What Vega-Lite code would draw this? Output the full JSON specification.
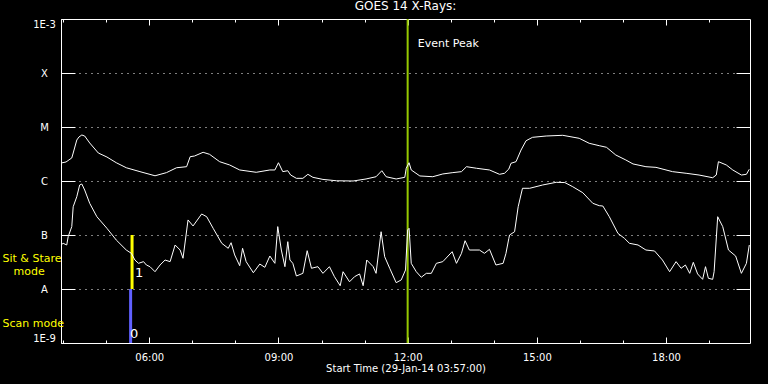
{
  "$schema": "https://vega.github.io/schema/vega-lite/v6.json",
  "width": 689,
  "height": 324,
  "autosize": "none",
  "padding": {"left": 61, "top": 19, "right": 18, "bottom": 41},
  "background": "black",
  "title": {"text": "GOES 14 X-Rays:", "color": "white", "font": "DejaVu Sans", "fontSize": 12, "fontWeight": "normal", "anchor": "middle", "offset": 5, "baseline": "bottom", "dy": 12},
  "config": {
    "view": {"stroke": "white", "strokeWidth": 1},
    "axis": {"domain": false, "grid": false, "tickColor": "white", "tickWidth": 1, "labelColor": "white", "labelFont": "DejaVu Sans", "labelFontSize": 10, "titleColor": "white", "titleFont": "DejaVu Sans", "titleFontSize": 10, "titleFontWeight": "normal", "labelOverlap": false}
  },
  "datasets": {
    "long": [
      {"t":"2014-01-29T03:57","v":2.15e-6},{"t":"2014-01-29T04:04","v":2.25e-6},{"t":"2014-01-29T04:12","v":2.67e-6},{"t":"2014-01-29T04:14","v":3.30e-6},
      {"t":"2014-01-29T04:19","v":5.74e-6},{"t":"2014-01-29T04:22","v":6.53e-6},{"t":"2014-01-29T04:26","v":7.11e-6},{"t":"2014-01-29T04:30","v":6.81e-6},
      {"t":"2014-01-29T04:37","v":5.06e-6},{"t":"2014-01-29T04:49","v":3.30e-6},{"t":"2014-01-29T05:01","v":2.78e-6},{"t":"2014-01-29T05:14","v":2.18e-6},
      {"t":"2014-01-29T05:28","v":1.76e-6},{"t":"2014-01-29T05:47","v":1.49e-6},{"t":"2014-01-29T06:08","v":1.25e-6},{"t":"2014-01-29T06:24","v":1.43e-6},
      {"t":"2014-01-29T06:38","v":1.76e-6},{"t":"2014-01-29T06:52","v":1.84e-6},{"t":"2014-01-29T06:57","v":2.82e-6},{"t":"2014-01-29T07:03","v":2.90e-6},
      {"t":"2014-01-29T07:15","v":3.40e-6},{"t":"2014-01-29T07:24","v":3.12e-6},{"t":"2014-01-29T07:38","v":2.28e-6},{"t":"2014-01-29T07:52","v":1.98e-6},
      {"t":"2014-01-29T08:06","v":1.60e-6},{"t":"2014-01-29T08:29","v":1.45e-6},{"t":"2014-01-29T08:48","v":1.60e-6},{"t":"2014-01-29T08:55","v":1.60e-6},
      {"t":"2014-01-29T09:00","v":2.18e-6},{"t":"2014-01-29T09:06","v":1.49e-6},{"t":"2014-01-29T09:13","v":1.55e-6},{"t":"2014-01-29T09:17","v":1.29e-6},
      {"t":"2014-01-29T09:25","v":1.12e-6},{"t":"2014-01-29T09:34","v":1.12e-6},{"t":"2014-01-29T09:41","v":1.33e-6},{"t":"2014-01-29T09:48","v":1.17e-6},
      {"t":"2014-01-29T10:02","v":1.07e-6},{"t":"2014-01-29T10:21","v":1.01e-6},{"t":"2014-01-29T10:44","v":1.00e-6},{"t":"2014-01-29T11:02","v":1.09e-6},
      {"t":"2014-01-29T11:16","v":1.20e-6},{"t":"2014-01-29T11:24","v":1.55e-6},{"t":"2014-01-29T11:30","v":1.20e-6},{"t":"2014-01-29T11:44","v":1.09e-6},
      {"t":"2014-01-29T11:56","v":1.17e-6},{"t":"2014-01-29T11:58","v":1.72e-6},{"t":"2014-01-29T12:02","v":2.18e-6},{"t":"2014-01-29T12:05","v":1.60e-6},
      {"t":"2014-01-29T12:17","v":1.24e-6},{"t":"2014-01-29T12:35","v":1.20e-6},{"t":"2014-01-29T12:49","v":1.35e-6},{"t":"2014-01-29T13:03","v":1.43e-6},
      {"t":"2014-01-29T13:15","v":1.49e-6},{"t":"2014-01-29T13:22","v":1.84e-6},{"t":"2014-01-29T13:36","v":1.72e-6},{"t":"2014-01-29T13:54","v":1.60e-6},
      {"t":"2014-01-29T14:08","v":1.33e-6},{"t":"2014-01-29T14:15","v":1.39e-6},{"t":"2014-01-29T14:21","v":1.67e-6},{"t":"2014-01-29T14:24","v":2.13e-6},
      {"t":"2014-01-29T14:31","v":2.28e-6},{"t":"2014-01-29T14:38","v":3.75e-6},{"t":"2014-01-29T14:45","v":5.57e-6},{"t":"2014-01-29T14:54","v":6.44e-6},
      {"t":"2014-01-29T15:13","v":6.81e-6},{"t":"2014-01-29T15:36","v":7.02e-6},{"t":"2014-01-29T15:59","v":6.18e-6},{"t":"2014-01-29T16:13","v":4.99e-6},
      {"t":"2014-01-29T16:27","v":4.51e-6},{"t":"2014-01-29T16:37","v":4.21e-6},{"t":"2014-01-29T16:50","v":3.03e-6},{"t":"2014-01-29T17:04","v":2.45e-6},
      {"t":"2014-01-29T17:14","v":2.07e-6},{"t":"2014-01-29T17:32","v":1.84e-6},{"t":"2014-01-29T17:46","v":1.79e-6},{"t":"2014-01-29T18:09","v":1.49e-6},
      {"t":"2014-01-29T18:28","v":1.39e-6},{"t":"2014-01-29T18:46","v":1.29e-6},{"t":"2014-01-29T19:05","v":1.15e-6},{"t":"2014-01-29T19:10","v":1.29e-6},
      {"t":"2014-01-29T19:13","v":2.28e-6},{"t":"2014-01-29T19:24","v":1.98e-6},{"t":"2014-01-29T19:33","v":1.60e-6},{"t":"2014-01-29T19:45","v":1.29e-6},
      {"t":"2014-01-29T19:52","v":1.33e-6},{"t":"2014-01-29T19:56","v":1.65e-6}
    ],
    "short": [
      {"t":"2014-01-29T03:57","v":6.53e-8},{"t":"2014-01-29T04:00","v":7.02e-8},{"t":"2014-01-29T04:05","v":6.53e-8},{"t":"2014-01-29T04:07","v":9.31e-8},
      {"t":"2014-01-29T04:12","v":1.43e-7},{"t":"2014-01-29T04:14","v":3.34e-7},{"t":"2014-01-29T04:19","v":5.12e-7},{"t":"2014-01-29T04:23","v":8.43e-7},
      {"t":"2014-01-29T04:26","v":8.80e-7},{"t":"2014-01-29T04:30","v":6.81e-7},{"t":"2014-01-29T04:37","v":3.86e-7},{"t":"2014-01-29T04:47","v":2.18e-7},
      {"t":"2014-01-29T05:01","v":1.33e-7},{"t":"2014-01-29T05:14","v":8.08e-8},{"t":"2014-01-29T05:28","v":5.27e-8},{"t":"2014-01-29T05:35","v":4.58e-8},
      {"t":"2014-01-29T05:40","v":3.44e-8},{"t":"2014-01-29T05:45","v":2.99e-8},{"t":"2014-01-29T05:52","v":3.21e-8},{"t":"2014-01-29T05:56","v":2.78e-8},
      {"t":"2014-01-29T06:01","v":2.59e-8},{"t":"2014-01-29T06:08","v":2.09e-8},{"t":"2014-01-29T06:15","v":2.78e-8},{"t":"2014-01-29T06:22","v":3.44e-8},
      {"t":"2014-01-29T06:29","v":3.21e-8},{"t":"2014-01-29T06:36","v":6.53e-8},{"t":"2014-01-29T06:43","v":5.27e-8},{"t":"2014-01-29T06:47","v":3.71e-8},
      {"t":"2014-01-29T06:54","v":1.90e-7},{"t":"2014-01-29T07:01","v":1.47e-7},{"t":"2014-01-29T07:13","v":2.45e-7},{"t":"2014-01-29T07:20","v":2.18e-7},
      {"t":"2014-01-29T07:29","v":1.33e-7},{"t":"2014-01-29T07:41","v":7.02e-8},{"t":"2014-01-29T07:50","v":5.67e-8},{"t":"2014-01-29T07:54","v":7.20e-8},
      {"t":"2014-01-29T07:59","v":4.27e-8},{"t":"2014-01-29T08:06","v":2.70e-8},{"t":"2014-01-29T08:10","v":5.67e-8},{"t":"2014-01-29T08:15","v":3.21e-8},
      {"t":"2014-01-29T08:25","v":2.00e-8},{"t":"2014-01-29T08:34","v":2.90e-8},{"t":"2014-01-29T08:41","v":2.52e-8},{"t":"2014-01-29T08:48","v":4.08e-8},
      {"t":"2014-01-29T08:55","v":2.99e-8},{"t":"2014-01-29T08:59","v":1.43e-7},{"t":"2014-01-29T09:04","v":5.27e-8},{"t":"2014-01-29T09:09","v":2.59e-8},
      {"t":"2014-01-29T09:13","v":7.52e-8},{"t":"2014-01-29T09:16","v":3.44e-8},{"t":"2014-01-29T09:20","v":2.99e-8},{"t":"2014-01-29T09:25","v":1.74e-8},
      {"t":"2014-01-29T09:34","v":1.95e-8},{"t":"2014-01-29T09:40","v":5.12e-8},{"t":"2014-01-29T09:46","v":2.42e-8},{"t":"2014-01-29T09:55","v":2.59e-8},
      {"t":"2014-01-29T10:02","v":1.95e-8},{"t":"2014-01-29T10:11","v":2.59e-8},{"t":"2014-01-29T10:18","v":1.69e-8},{"t":"2014-01-29T10:26","v":1.15e-8},
      {"t":"2014-01-29T10:30","v":2.09e-8},{"t":"2014-01-29T10:39","v":1.36e-8},{"t":"2014-01-29T10:46","v":1.69e-8},{"t":"2014-01-29T10:53","v":1.90e-8},
      {"t":"2014-01-29T10:58","v":1.15e-8},{"t":"2014-01-29T11:03","v":3.44e-8},{"t":"2014-01-29T11:12","v":2.59e-8},{"t":"2014-01-29T11:16","v":1.95e-8},
      {"t":"2014-01-29T11:23","v":1.15e-7},{"t":"2014-01-29T11:28","v":3.96e-8},{"t":"2014-01-29T11:35","v":2.42e-8},{"t":"2014-01-29T11:44","v":1.31e-8},
      {"t":"2014-01-29T11:51","v":1.47e-8},{"t":"2014-01-29T11:57","v":2.25e-8},{"t":"2014-01-29T12:00","v":1.24e-7},{"t":"2014-01-29T12:02","v":1.33e-7},
      {"t":"2014-01-29T12:05","v":2.99e-8},{"t":"2014-01-29T12:12","v":2.09e-8},{"t":"2014-01-29T12:19","v":1.65e-8},{"t":"2014-01-29T12:26","v":1.95e-8},
      {"t":"2014-01-29T12:33","v":1.95e-8},{"t":"2014-01-29T12:40","v":2.99e-8},{"t":"2014-01-29T12:49","v":3.21e-8},{"t":"2014-01-29T13:02","v":4.91e-8},
      {"t":"2014-01-29T13:08","v":2.99e-8},{"t":"2014-01-29T13:15","v":4.58e-8},{"t":"2014-01-29T13:20","v":7.84e-8},{"t":"2014-01-29T13:26","v":5.27e-8},
      {"t":"2014-01-29T13:40","v":5.27e-8},{"t":"2014-01-29T13:47","v":4.58e-8},{"t":"2014-01-29T13:54","v":5.43e-8},{"t":"2014-01-29T14:03","v":2.78e-8},
      {"t":"2014-01-29T14:13","v":2.99e-8},{"t":"2014-01-29T14:17","v":4.58e-8},{"t":"2014-01-29T14:21","v":8.69e-8},{"t":"2014-01-29T14:22","v":1.00e-7},
      {"t":"2014-01-29T14:29","v":1.15e-7},{"t":"2014-01-29T14:34","v":3.34e-7},{"t":"2014-01-29T14:40","v":7.33e-7},{"t":"2014-01-29T14:50","v":7.33e-7},
      {"t":"2014-01-29T15:08","v":8.43e-7},{"t":"2014-01-29T15:27","v":9.46e-7},{"t":"2014-01-29T15:39","v":9.35e-7},{"t":"2014-01-29T15:50","v":7.84e-7},
      {"t":"2014-01-29T16:04","v":6.07e-7},{"t":"2014-01-29T16:18","v":3.86e-7},{"t":"2014-01-29T16:27","v":3.49e-7},{"t":"2014-01-29T16:32","v":3.44e-7},
      {"t":"2014-01-29T16:41","v":2.18e-7},{"t":"2014-01-29T16:53","v":1.07e-7},{"t":"2014-01-29T17:02","v":8.69e-8},{"t":"2014-01-29T17:09","v":7.02e-8},
      {"t":"2014-01-29T17:21","v":6.53e-8},{"t":"2014-01-29T17:32","v":5.27e-8},{"t":"2014-01-29T17:44","v":5.06e-8},{"t":"2014-01-29T17:55","v":3.44e-8},
      {"t":"2014-01-29T18:05","v":2.09e-8},{"t":"2014-01-29T18:14","v":3.21e-8},{"t":"2014-01-29T18:21","v":2.42e-8},{"t":"2014-01-29T18:27","v":2.78e-8},
      {"t":"2014-01-29T18:33","v":1.95e-8},{"t":"2014-01-29T18:38","v":3.12e-8},{"t":"2014-01-29T18:44","v":1.90e-8},{"t":"2014-01-29T18:51","v":1.51e-8},
      {"t":"2014-01-29T18:55","v":2.59e-8},{"t":"2014-01-29T18:59","v":1.58e-8},{"t":"2014-01-29T19:05","v":1.51e-8},{"t":"2014-01-29T19:07","v":2.09e-8},
      {"t":"2014-01-29T19:12","v":2.18e-7},{"t":"2014-01-29T19:19","v":1.43e-7},{"t":"2014-01-29T19:27","v":5.27e-8},{"t":"2014-01-29T19:37","v":4.08e-8},
      {"t":"2014-01-29T19:45","v":1.95e-8},{"t":"2014-01-29T19:52","v":2.99e-8},{"t":"2014-01-29T19:56","v":6.53e-8}
    ],
    "modes": [
      {"t":"2014-01-29T05:36","v1":1e-7,"v2":1e-8,"mode":"Sit & Stare"},
      {"t":"2014-01-29T05:34","v1":1e-8,"v2":1e-9,"mode":"Scan"}
    ],
    "event": [{"t":"2014-01-29T12:00","label":"Event Peak"}],
    "notes": [{"t":"2014-01-29T12:14","v":3.07e-4,"label":"Event Peak"}],
    "modenums": [
      {"t":"2014-01-29T05:40","v":1.65e-8,"label":"1"},
      {"t":"2014-01-29T05:33","v":1.22e-9,"label":"0"}
    ]
  },
  "layer": [
    {
      "data": {"name": "event"},
      "mark": {"type": "rule", "color": "#96c800", "strokeWidth": 2},
      "encoding": {
        "x": {"field": "t", "type": "temporal",
          "scale": {"domain": [{"year":2014,"month":1,"date":29,"hours":3,"minutes":57},{"year":2014,"month":1,"date":29,"hours":19,"minutes":57}], "nice": false},
          "axis": {"orient": "top", "labels": false, "title": null, "tickSize": -6,
            "values": [{"year":2014,"month":1,"date":29,"hours":6},{"year":2014,"month":1,"date":29,"hours":9},{"year":2014,"month":1,"date":29,"hours":12},{"year":2014,"month":1,"date":29,"hours":15},{"year":2014,"month":1,"date":29,"hours":18}]}}
      }
    },
    {
      "data": {"name": "modes"},
      "mark": {"type": "rule", "strokeWidth": 3},
      "encoding": {
        "x": {"field": "t", "type": "temporal",
          "axis": {"orient": "top", "labels": false, "title": null, "tickSize": -3,
            "values": [{"year":2014,"month":1,"date":29,"hours":4},{"year":2014,"month":1,"date":29,"hours":5},{"year":2014,"month":1,"date":29,"hours":7},{"year":2014,"month":1,"date":29,"hours":8},{"year":2014,"month":1,"date":29,"hours":10},{"year":2014,"month":1,"date":29,"hours":11},{"year":2014,"month":1,"date":29,"hours":13},{"year":2014,"month":1,"date":29,"hours":14},{"year":2014,"month":1,"date":29,"hours":16},{"year":2014,"month":1,"date":29,"hours":17},{"year":2014,"month":1,"date":29,"hours":19}]}},
        "y": {"field": "v1", "type": "quantitative",
          "scale": {"type": "log", "domain": [1e-9, 1e-3], "nice": false},
          "axis": {"orient": "left", "title": null, "ticks": false, "grid": false, "labelAlign": "left", "labelBaseline": "middle",
            "labelPadding": {"condition": {"test": "datum.value > 1e-8 && datum.value < 3e-8", "value": 48}, "value": 59},
            "labelColor": "#ffff00", "labelFontSize": 11, "labelFlush": false,
            "values": [3.67e-8, 2.15e-8, 2.3e-9],
            "labelExpr": "datum.value > 3e-8 ? 'Sit & Stare' : (datum.value > 1e-8 ? 'mode' : 'Scan mode')"}},
        "y2": {"field": "v2"},
        "color": {"field": "mode", "type": "nominal", "scale": {"domain": ["Sit & Stare", "Scan"], "range": ["#ffff00", "#6060ff"]}, "legend": null}
      }
    },
    {
      "data": {"name": "long"},
      "mark": {"type": "line", "color": "white", "strokeWidth": 1},
      "encoding": {
        "x": {"field": "t", "type": "temporal",
          "axis": {"orient": "bottom", "format": "%H:%M", "tickSize": -6, "labelPadding": 15, "labelFlush": false,
            "title": "Start Time (29-Jan-14 03:57:00)", "titleBaseline": "alphabetic", "titleY": 28,
            "values": [{"year":2014,"month":1,"date":29,"hours":6},{"year":2014,"month":1,"date":29,"hours":9},{"year":2014,"month":1,"date":29,"hours":12},{"year":2014,"month":1,"date":29,"hours":15},{"year":2014,"month":1,"date":29,"hours":18}]}},
        "y": {"field": "v", "type": "quantitative",
          "axis": {"orient": "left", "title": null, "tickSize": -14, "labelPadding": 31, "labelAlign": "center", "labelFlush": true,
            "grid": true, "gridColor": "white", "gridDash": [1, 5], "gridWidth": 1,
            "values": [1e-9, 1e-8, 1e-7, 1e-6, 1e-5, 1e-4, 1e-3],
            "labelExpr": "['1E-9','A','B','C','M','X','1E-3'][round(log(datum.value)/LN10)+9]"}}
      }
    },
    {
      "data": {"name": "short"},
      "mark": {"type": "line", "color": "white", "strokeWidth": 1},
      "encoding": {
        "x": {"field": "t", "type": "temporal",
          "axis": {"orient": "bottom", "labels": false, "title": null, "tickSize": -3,
            "values": [{"year":2014,"month":1,"date":29,"hours":4},{"year":2014,"month":1,"date":29,"hours":5},{"year":2014,"month":1,"date":29,"hours":7},{"year":2014,"month":1,"date":29,"hours":8},{"year":2014,"month":1,"date":29,"hours":10},{"year":2014,"month":1,"date":29,"hours":11},{"year":2014,"month":1,"date":29,"hours":13},{"year":2014,"month":1,"date":29,"hours":14},{"year":2014,"month":1,"date":29,"hours":16},{"year":2014,"month":1,"date":29,"hours":17},{"year":2014,"month":1,"date":29,"hours":19}]}},
        "y": {"field": "v", "type": "quantitative",
          "axis": {"orient": "right", "title": null, "labels": false, "tickSize": -14, "grid": false,
            "values": [1e-8, 1e-7, 1e-6, 1e-5, 1e-4]}}
      }
    },
    {
      "data": {"name": "notes"},
      "mark": {"type": "text", "color": "white", "font": "DejaVu Sans", "fontSize": 11, "align": "left", "baseline": "alphabetic"},
      "encoding": {
        "x": {"field": "t", "type": "temporal", "axis": null},
        "y": {"field": "v", "type": "quantitative", "axis": null},
        "text": {"field": "label"}
      }
    },
    {
      "data": {"name": "modenums"},
      "mark": {"type": "text", "color": "white", "font": "DejaVu Sans", "fontSize": 13, "align": "left", "baseline": "alphabetic"},
      "encoding": {
        "x": {"field": "t", "type": "temporal", "axis": null},
        "y": {"field": "v", "type": "quantitative", "axis": null},
        "text": {"field": "label"}
      }
    }
  ],
  "resolve": {"axis": {"x": "independent", "y": "independent"}}
}
